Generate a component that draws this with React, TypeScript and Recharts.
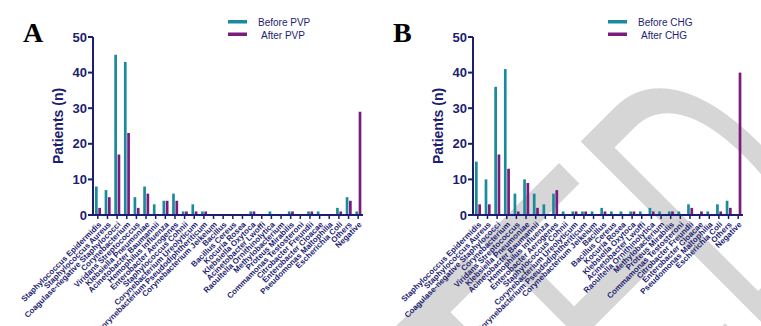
import React from "react";
import { BarChart, Bar, XAxis, YAxis } from "recharts";

// organisms on the x axis (same order in both panels)
const organisms = [
  "Staphylococcus Epidermidis",
  "Staphylococcus Aureus",
  "Coagulase-negative Staphylococci",
  "Corynebacterium",
  "Viridans Streptococcus",
  "Klebsiella Pneumoniae",
  "Acinetobacter Baumannii",
  "Hemophilus Influenza",
  "Enterobacter Aerogenes",
  "Staphylococcus Cohnii",
  "Corynebacterium Ureolyticum",
  "Corynebacterium Pseudodiphtheriticum",
  "Corynebacterium Jeikeium",
  "Bacillus",
  "Bacillus Cereus",
  "Kocuria Rosea",
  "Klebsiella Oxytoca",
  "Acinetobacter Lwoffi",
  "Raoultella Ornithinolytica",
  "Methylobacterium",
  "Proteus Mirabilis",
  "Commamonas Testosteroni",
  "Citrobacter Freundii",
  "Enterobacter Cloacae",
  "Pseudomonas Maltophilia",
  "Escherichia Coli",
  "Others",
  "Negative",
];

// panel A
const beforePVP = [8, 7, 45, 43, 5, 8, 3, 4, 6, 1, 3, 1, 0, 0, 0, 0, 1, 0, 1, 0, 1, 0, 1, 1, 0, 2, 5, 1];
const afterPVP = [2, 5, 17, 23, 2, 6, 0, 4, 4, 1, 1, 1, 0, 0, 0, 0, 1, 0, 0, 0, 1, 0, 1, 0, 0, 1, 4, 29];

// panel B
const beforeCHG = [15, 10, 36, 41, 6, 10, 6, 3, 6, 1, 1, 1, 1, 2, 1, 1, 1, 1, 2, 1, 1, 1, 3, 0, 1, 3, 4, 0];
const afterCHG = [3, 3, 17, 13, 1, 9, 2, 0, 7, 0, 1, 1, 0, 1, 0, 0, 1, 0, 1, 0, 1, 0, 2, 1, 0, 1, 2, 40];

const yTicks = [0, 10, 20, 30, 40, 50];

const TEAL = "#1a8b9b";
const PURPLE = "#7b1b7e";
const NAVY = "#1d1d72";
const SANS = "'Liberation Sans', Arial, sans-serif";

const OrganismTick = (props: any) => {
  const { x, y, payload } = props;
  return (
    <text
      transform={`translate(${x + 2},${y + 4}) rotate(-45)`}
      textAnchor="end"
      dy="0.35em"
      fontSize={8}
      fontWeight="bold"
      fontFamily={SANS}
      fill={NAVY}
    >
      {payload.value}
    </text>
  );
};

type PanelProps = {
  letter: string;
  letterX: number;
  left: number;
  before: number[];
  after: number[];
  beforeName: string;
  afterName: string;
};

const Panel = ({ letter, letterX, left, before, after, beforeName, afterName }: PanelProps) => {
  const data = organisms.map((name, i) => ({ name, before: before[i], after: after[i] }));
  return (
    <div style={{ position: "absolute", left, top: 0, width: 380, height: 326 }}>
      <BarChart
        width={380}
        height={326}
        data={data}
        margin={{ top: 37, right: 17, bottom: 0, left: 0 }}
        barSize={2.7}
        barGap={0.6}
      >
        <XAxis
          dataKey="name"
          interval={0}
          height={111}
          tick={<OrganismTick />}
          tickSize={4}
          tickMargin={0}
          tickLine={{ stroke: NAVY, strokeWidth: 1.5 }}
          axisLine={{ stroke: NAVY, strokeWidth: 2 }}
        />
        <YAxis
          domain={[0, 50]}
          ticks={yTicks}
          width={93}
          tickSize={5}
          tickMargin={1}
          tickLine={{ stroke: NAVY, strokeWidth: 2 }}
          axisLine={{ stroke: NAVY, strokeWidth: 2 }}
          tick={{ fill: NAVY, fontSize: 13, fontWeight: "bold", fontFamily: SANS }}
        />
        <Bar dataKey="before" name={beforeName} fill={TEAL} isAnimationActive={false} />
        <Bar dataKey="after" name={afterName} fill={PURPLE} isAnimationActive={false} />
      </BarChart>
      <svg width={380} height={326} style={{ position: "absolute", left: 0, top: 0, pointerEvents: "none" }}>
        <text x={letterX} y={42} fontFamily="'Liberation Serif', 'Times New Roman', serif" fontWeight="bold" fontSize={28} fill="#000">
          {letter}
        </text>
        <text
          transform="translate(58,126) rotate(-90)"
          textAnchor="middle"
          dy="0.35em"
          fontFamily={SANS}
          fontWeight="bold"
          fontSize={14}
          fill={NAVY}
        >
          Patients (n)
        </text>
        <rect x={228} y={20} width={19} height={3.5} fill={TEAL} />
        <rect x={228} y={32.5} width={19} height={3.5} fill={PURPLE} />
        <text x={258} y={25.5} fontFamily={SANS} fontSize={10} fill={NAVY}>
          {beforeName}
        </text>
        <text x={261} y={38.5} fontFamily={SANS} fontSize={10} fill={NAVY}>
          {afterName}
        </text>
      </svg>
    </div>
  );
};

export default function App() {
  return (
    <div style={{ position: "absolute", left: 0, top: 0, width: 761, height: 326, background: "#fff", overflow: "hidden" }}>
      {/* light grey "ACCEPTED" watermark behind panel B */}
      <svg width={761} height={326} style={{ position: "absolute", left: 0, top: 0 }}>
        <text
          transform="rotate(-45) scale(0.56,1)"
          x={796}
          y={770}
          textAnchor="end"
          fontFamily={SANS}
          fontSize={377}
          fill="#d6d6d6"
        >
          ACCEPTED
        </text>
      </svg>
      <Panel letter="A" letterX={23} left={0} before={beforePVP} after={afterPVP} beforeName="Before PVP" afterName=" After PVP" />
      <Panel letter="B" letterX={13} left={380} before={beforeCHG} after={afterCHG} beforeName="Before CHG" afterName=" After CHG" />
    </div>
  );
}
